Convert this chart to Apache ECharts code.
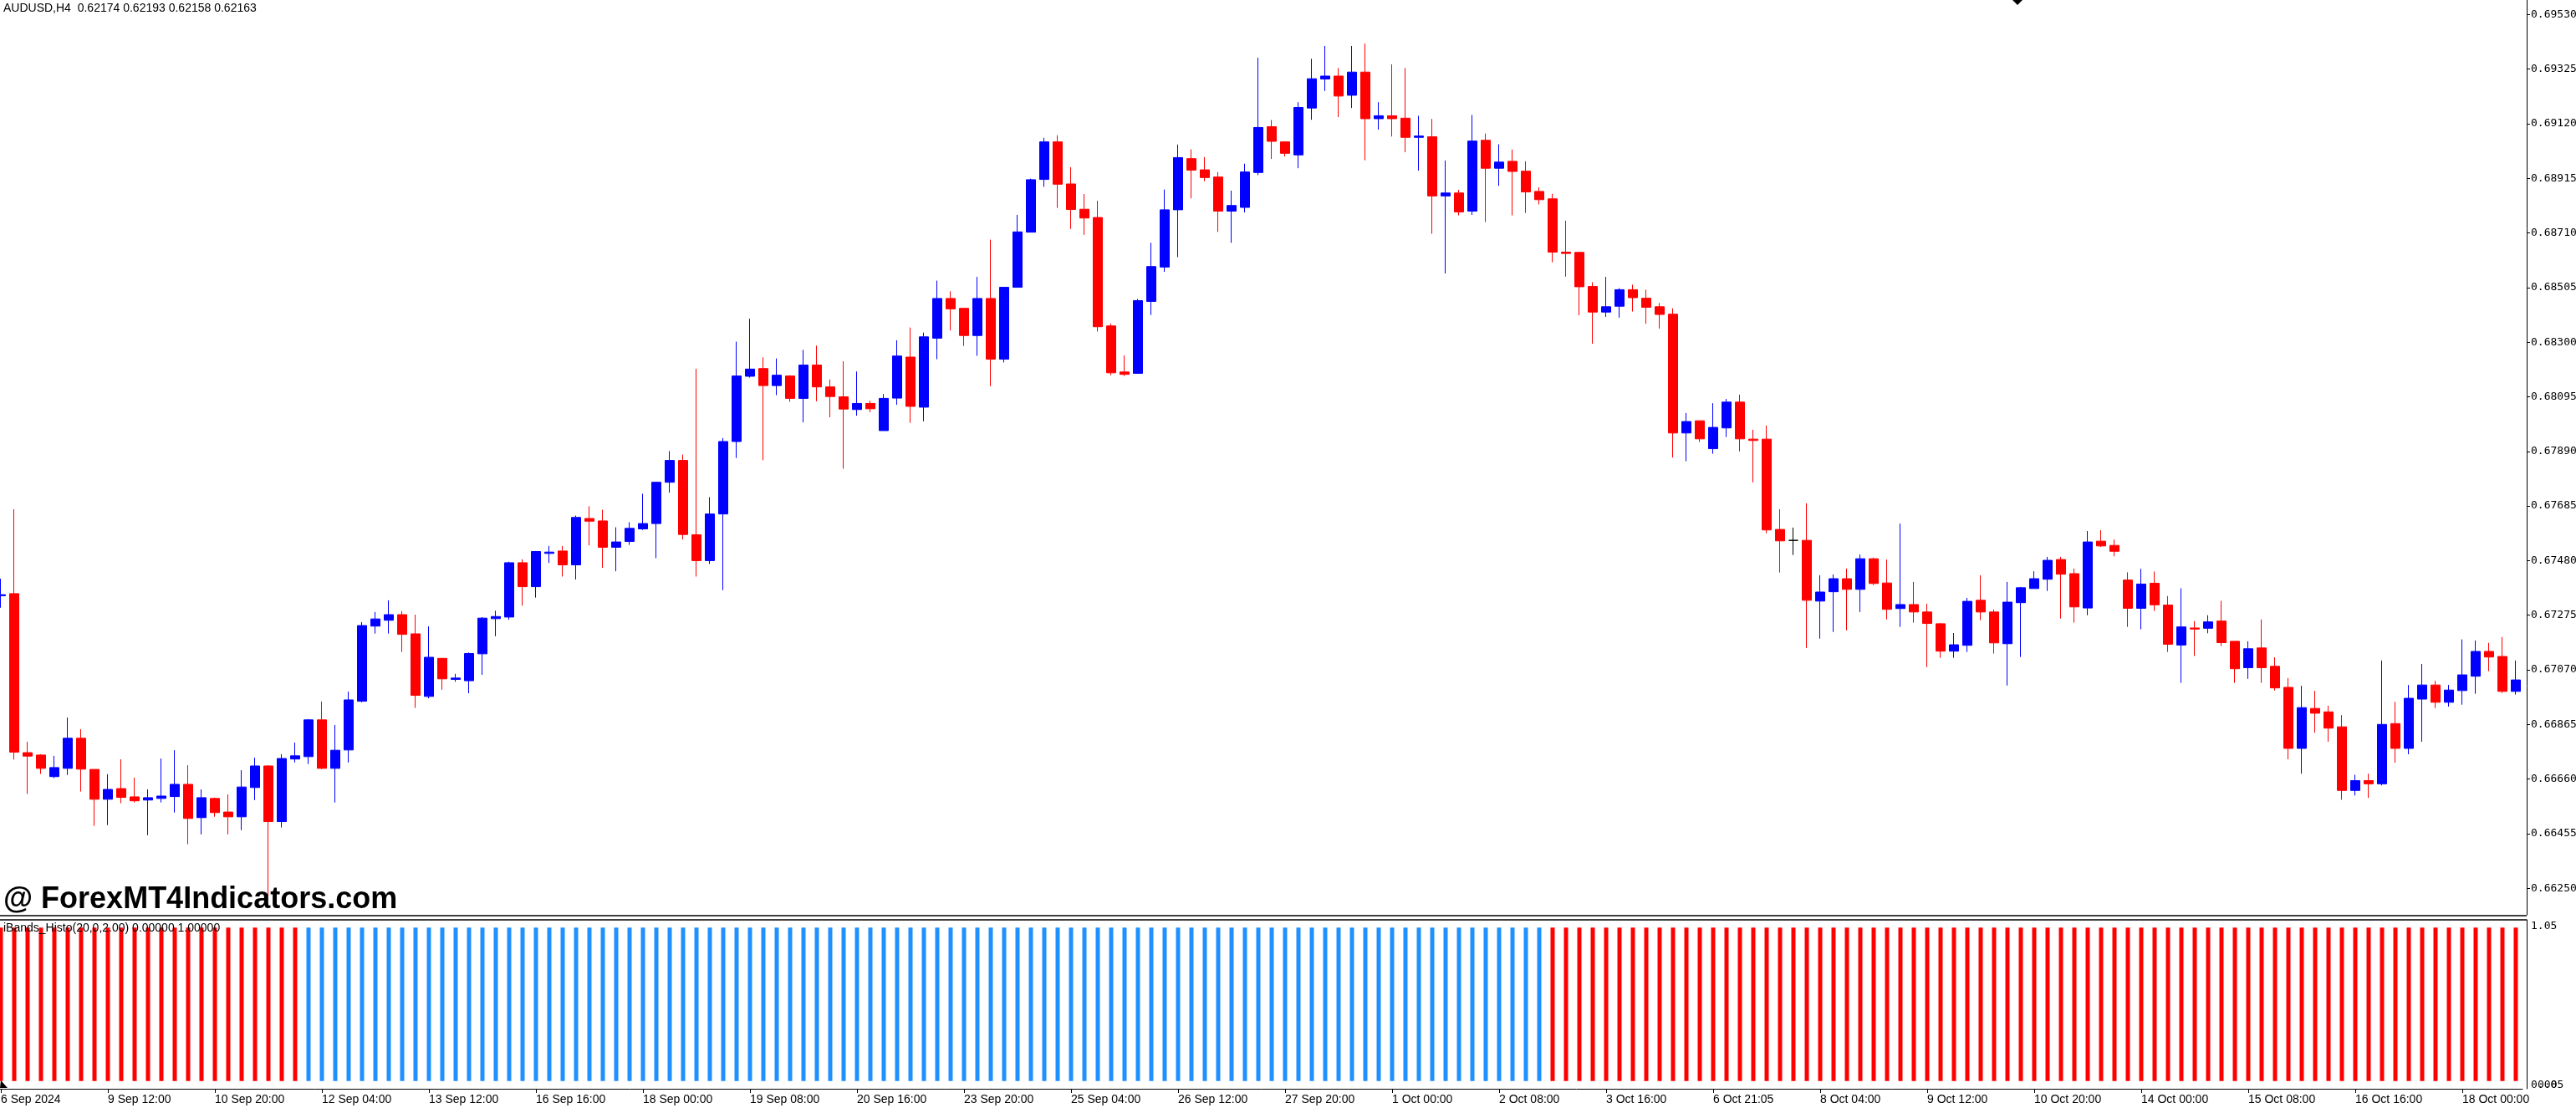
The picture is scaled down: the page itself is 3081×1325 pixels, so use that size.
<!DOCTYPE html>
<html><head><meta charset="utf-8">
<script src="https://cdn.jsdelivr.net/npm/echarts@6/dist/echarts.min.js"></script>
<style>html,body{margin:0;padding:0;background:#fff}#c{width:3081px;height:1325px}</style>
</head><body><div id="c"></div>
<script>
// AUDUSD H4 candles (open, close, low, high)
const opens = [
0.67348,0.67356,0.66759,0.66750,0.66669,0.66700,0.66813,0.66696,0.66584,0.66624,
0.66593,0.66581,0.66587,0.66594,0.66640,0.66515,0.66587,0.66536,0.66518,0.66628,
0.66709,0.66500,0.66735,0.66744,0.66882,0.66700,0.66769,0.66952,0.67234,0.67256,
0.67277,0.67205,0.66970,0.67113,0.67034,0.67029,0.67130,0.67262,0.67268,0.67472,
0.67382,0.67507,0.67516,0.67464,0.67638,0.67629,0.67530,0.67552,0.67599,0.67619,
0.67774,0.67856,0.67577,0.67480,0.67655,0.67927,0.68172,0.68201,0.68137,0.68173,
0.68089,0.68214,0.68132,0.68095,0.68047,0.68070,0.67968,0.68090,0.68244,0.68056,
0.68315,0.68464,0.68427,0.68325,0.68464,0.68236,0.68506,0.68713,0.68911,0.69052,
0.68894,0.68799,0.68768,0.68361,0.68188,0.68183,0.68453,0.68582,0.68797,0.68989,
0.68947,0.68920,0.68792,0.68806,0.68937,0.69109,0.69052,0.69003,0.69179,0.69288,
0.69299,0.69227,0.69314,0.69139,0.69150,0.69141,0.69069,0.69071,0.68849,0.68860,
0.68792,0.69058,0.68953,0.68979,0.68942,0.68866,0.68838,0.68638,0.68637,0.68509,
0.68413,0.68435,0.68497,0.68465,0.68433,0.68405,0.67959,0.68005,0.67900,0.67978,
0.68075,0.67936,0.67936,0.67597,0.67556,0.67556,0.67328,0.67363,0.67412,0.67372,
0.67487,0.67396,0.67300,0.67315,0.67287,0.67243,0.67140,0.67162,0.67331,0.67287,
0.67168,0.67322,0.67375,0.67410,0.67484,0.67431,0.67302,0.67553,0.67537,0.67407,
0.67301,0.67395,0.67313,0.67163,0.67227,0.67226,0.67253,0.67177,0.67078,0.67152,
0.67083,0.67004,0.66775,0.66925,0.66912,0.66856,0.66617,0.66654,0.66642,0.66868,
0.66775,0.66960,0.67013,0.66948,0.66992,0.67046,0.67139,0.67120,0.66989];
const closes = [
0.67352,0.66761,0.66746,0.66700,0.66703,0.66813,0.66697,0.66584,0.66621,0.66591,
0.66578,0.66590,0.66596,0.66640,0.66512,0.66590,0.66534,0.66518,0.66630,0.66709,
0.66500,0.66737,0.66747,0.66882,0.66700,0.66768,0.66957,0.67236,0.67261,0.67277,
0.67203,0.66974,0.67117,0.67036,0.67039,0.67131,0.67264,0.67270,0.67472,0.67382,
0.67514,0.67512,0.67464,0.67642,0.67628,0.67530,0.67550,0.67601,0.67619,0.67774,
0.67856,0.67578,0.67480,0.67655,0.67927,0.68173,0.68199,0.68137,0.68176,0.68089,
0.68214,0.68132,0.68096,0.68049,0.68070,0.68050,0.68089,0.68248,0.68059,0.68320,
0.68464,0.68425,0.68325,0.68464,0.68236,0.68506,0.68714,0.68910,0.69052,0.68893,
0.68798,0.68766,0.68358,0.68185,0.68179,0.68456,0.68584,0.68797,0.68993,0.68946,
0.68918,0.68792,0.68813,0.68939,0.69106,0.69054,0.69009,0.69181,0.69289,0.69299,
0.69224,0.69314,0.69139,0.69150,0.69139,0.69069,0.69074,0.68849,0.68860,0.68789,
0.69055,0.68953,0.68976,0.68941,0.68864,0.68835,0.68638,0.68633,0.68508,0.68413,
0.68433,0.68497,0.68467,0.68431,0.68404,0.67959,0.68002,0.67937,0.67980,0.68075,
0.67937,0.67931,0.67595,0.67554,0.67556,0.67331,0.67362,0.67412,0.67372,0.67487,
0.67394,0.67297,0.67315,0.67287,0.67244,0.67140,0.67164,0.67327,0.67287,0.67171,
0.67324,0.67378,0.67412,0.67481,0.67429,0.67306,0.67550,0.67535,0.67515,0.67301,
0.67392,0.67314,0.67166,0.67231,0.67223,0.67250,0.67172,0.67074,0.67149,0.67078,
0.67002,0.66775,0.66928,0.66907,0.66851,0.66617,0.66654,0.66642,0.66865,0.66775,
0.66963,0.67013,0.66948,0.66994,0.67051,0.67139,0.67118,0.66989,0.67032];
const lows = [
0.67303,0.66733,0.66604,0.66679,0.66663,0.66675,0.66613,0.66484,0.66487,0.66569,
0.66572,0.66449,0.66572,0.66534,0.66415,0.66452,0.66518,0.66452,0.66468,0.66581,
0.66219,0.66478,0.66722,0.66716,0.66697,0.66572,0.66722,0.66948,0.67206,0.67206,
0.67137,0.66927,0.66963,0.66995,0.67025,0.66982,0.67051,0.67196,0.67258,0.67311,
0.67341,0.67471,0.67420,0.67409,0.67537,0.67453,0.67440,0.67539,0.67595,0.67489,
0.67735,0.67559,0.67420,0.67467,0.67369,0.67865,0.68167,0.67857,0.68101,0.68076,
0.67999,0.68078,0.68018,0.67825,0.68024,0.68037,0.67968,0.68065,0.67997,0.68003,
0.68236,0.68344,0.68286,0.68249,0.68135,0.68224,0.68506,0.68713,0.68883,0.68804,
0.68725,0.68703,0.68340,0.68176,0.68173,0.68183,0.68402,0.68564,0.68619,0.68840,
0.68904,0.68714,0.68673,0.68787,0.68927,0.68988,0.68997,0.68953,0.69135,0.69243,
0.69145,0.69179,0.68983,0.69098,0.69072,0.69013,0.68944,0.68707,0.68558,0.68776,
0.68778,0.68751,0.68887,0.68776,0.68785,0.68817,0.68600,0.68546,0.68401,0.68294,
0.68395,0.68392,0.68415,0.68369,0.68351,0.67867,0.67853,0.67925,0.67881,0.67944,
0.67890,0.67774,0.67583,0.67435,0.67501,0.67152,0.67187,0.67212,0.67218,0.67287,
0.67388,0.67259,0.67231,0.67247,0.67080,0.67115,0.67115,0.67137,0.67256,0.67131,
0.67011,0.67118,0.67375,0.67366,0.67262,0.67247,0.67275,0.67531,0.67496,0.67231,
0.67222,0.67291,0.67137,0.67021,0.67122,0.67207,0.67159,0.67021,0.67036,0.67021,
0.66992,0.66734,0.66680,0.66834,0.66800,0.66582,0.66598,0.66589,0.66636,0.66721,
0.66753,0.66800,0.66926,0.66932,0.66939,0.66980,0.67065,0.66983,0.66977];
const highs = [
0.67412,0.67673,0.66800,0.66753,0.66747,0.66891,0.66847,0.66696,0.66678,0.66734,
0.66665,0.66621,0.66737,0.66768,0.66712,0.66621,0.66590,0.66602,0.66693,0.66740,
0.66712,0.66753,0.66797,0.66885,0.66951,0.66863,0.66988,0.67249,0.67287,0.67331,
0.67290,0.67277,0.67233,0.67114,0.67055,0.67135,0.67268,0.67292,0.67476,0.67485,
0.67516,0.67535,0.67535,0.67649,0.67684,0.67671,0.67605,0.67624,0.67731,0.67774,
0.67891,0.67878,0.68200,0.67718,0.67940,0.68302,0.68388,0.68243,0.68239,0.68176,
0.68271,0.68287,0.68160,0.68228,0.68190,0.68080,0.68105,0.68307,0.68355,0.68336,
0.68531,0.68491,0.68427,0.68545,0.68685,0.68506,0.68778,0.68914,0.69067,0.69077,
0.68957,0.68856,0.68831,0.68370,0.68250,0.68462,0.68673,0.68873,0.69042,0.69024,
0.68995,0.68939,0.68869,0.68970,0.69368,0.69134,0.69052,0.69201,0.69364,0.69412,
0.69329,0.69412,0.69421,0.69201,0.69343,0.69329,0.69150,0.69138,0.68982,0.68872,
0.69153,0.69083,0.69043,0.69023,0.68979,0.68881,0.68857,0.68756,0.68639,0.68525,
0.68545,0.68503,0.68516,0.68497,0.68447,0.68427,0.68034,0.68005,0.68071,0.68087,
0.68103,0.67971,0.67987,0.67673,0.67604,0.67695,0.67425,0.67428,0.67450,0.67503,
0.67491,0.67484,0.67619,0.67400,0.67318,0.67246,0.67208,0.67340,0.67425,0.67296,
0.67400,0.67381,0.67440,0.67494,0.67494,0.67450,0.67591,0.67594,0.67559,0.67436,
0.67449,0.67439,0.67347,0.67376,0.67253,0.67275,0.67329,0.67177,0.67177,0.67259,
0.67117,0.67039,0.67010,0.66991,0.66935,0.66900,0.66676,0.66680,0.67105,0.66950,
0.67013,0.67092,0.67029,0.67013,0.67184,0.67180,0.67171,0.67193,0.67105];

// iBands_Histo buffers (1 = bar drawn in that buffer)
const histoUp = [
0,0,0,0,0,0,0,0,0,0, 0,0,0,0,0,0,0,0,0,0, 0,0,0,1,1,1,1,1,1,1,
1,1,1,1,1,1,1,1,1,1, 1,1,1,1,1,1,1,1,1,1, 1,1,1,1,1,1,1,1,1,1,
1,1,1,1,1,1,1,1,1,1, 1,1,1,1,1,1,1,1,1,1, 1,1,1,1,1,1,1,1,1,1,
1,1,1,1,1,1,1,1,1,1, 1,1,1,1,1,1,1,1,1,1, 1,1,1,1,1,1,0,0,0,0,
0,0,0,0,0,0,0,0,0,0, 0,0,0,0,0,0,0,0,0,0, 0,0,0,0,0,0,0,0,0,0,
0,0,0,0,0,0,0,0,0,0, 0,0,0,0,0,0,0,0,0,0, 0,0,0,0,0,0,0,0,0,0,
0,0,0,0,0,0,0,0,0];
const histoDown = [
1,1,1,1,1,1,1,1,1,1, 1,1,1,1,1,1,1,1,1,1, 1,1,1,0,0,0,0,0,0,0,
0,0,0,0,0,0,0,0,0,0, 0,0,0,0,0,0,0,0,0,0, 0,0,0,0,0,0,0,0,0,0,
0,0,0,0,0,0,0,0,0,0, 0,0,0,0,0,0,0,0,0,0, 0,0,0,0,0,0,0,0,0,0,
0,0,0,0,0,0,0,0,0,0, 0,0,0,0,0,0,0,0,0,0, 0,0,0,0,0,0,1,1,1,1,
1,1,1,1,1,1,1,1,1,1, 1,1,1,1,1,1,1,1,1,1, 1,1,1,1,1,1,1,1,1,1,
1,1,1,1,1,1,1,1,1,1, 1,1,1,1,1,1,1,1,1,1, 1,1,1,1,1,1,1,1,1,1,
1,1,1,1,1,1,1,1,1];

// time axis labels (one every 8 bars)
const timeLabels = ['6 Sep 2024','9 Sep 12:00','10 Sep 20:00','12 Sep 04:00','13 Sep 12:00','16 Sep 16:00',
'18 Sep 00:00','19 Sep 08:00','20 Sep 16:00','23 Sep 20:00','25 Sep 04:00','26 Sep 12:00','27 Sep 20:00',
'1 Oct 00:00','2 Oct 08:00','3 Oct 16:00','6 Oct 21:05','8 Oct 04:00','9 Oct 12:00','10 Oct 20:00',
'14 Oct 00:00','15 Oct 08:00','16 Oct 16:00','18 Oct 00:00'];
const labelStep = 8;
// price axis tick labels
const priceTicks = [0.69530,0.69325,0.69120,0.68915,0.68710,0.68505,0.68300,0.68095,0.67890,
0.67685,0.67480,0.67275,0.67070,0.66865,0.66660,0.66455,0.66250];

const titleText = 'AUDUSD,H4  0.62174 0.62193 0.62158 0.62163';
const indiText = 'iBands_Histo(20,0,2.00) 0.00000 1.00000';
const watermark = '@ ForexMT4Indicators.com';

const cats = opens.map((_, i) => String(i));
const candleData = opens.map((o, i) => {
  const item = { value: [o, closes[i], lows[i], highs[i]] };
  if (o === closes[i]) item.itemStyle = { color: '#000', color0: '#000', borderColor: '#000', borderColor0: '#000' };
  return item;
});

const chart = echarts.init(document.getElementById('c'), null, { renderer: 'canvas' });
const AX = '#000';
chart.setOption({
  animation: false,
  backgroundColor: '#ffffff',
  grid: [
    { left: -7, top: 0, width: 3024, height: 1094, containLabel: false, outerBoundsMode: 'none' },
    { left: -7, top: 1100, width: 3024, height: 202, containLabel: false, outerBoundsMode: 'none' }
  ],
  xAxis: [
    { type: 'category', gridIndex: 0, data: cats, boundaryGap: true, show: false },
    { type: 'category', gridIndex: 1, data: cats, boundaryGap: true,
      axisLine: { show: true, onZero: false, lineStyle: { color: AX, width: 1 } },
      axisTick: { show: true, interval: labelStep - 1, alignWithLabel: true, length: 5, lineStyle: { color: AX } },
      axisLabel: { interval: labelStep - 1, align: 'left', color: '#000', fontFamily: 'Liberation Sans', fontSize: 14,
        margin: 6,
        formatter: (v, i) => (i % labelStep === 0 ? (timeLabels[i / labelStep] || '') : '') } }
  ],
  yAxis: [
    { type: 'value', gridIndex: 0, position: 'right', offset: 5, min: 0.661501, max: 0.695846, scale: true,
      splitLine: { show: false },
      axisLine: { show: true, lineStyle: { color: AX, width: 1 } },
      axisTick: { show: true, customValues: priceTicks, length: 4, lineStyle: { color: AX } },
      axisLabel: { customValues: priceTicks, formatter: v => v.toFixed(5), color: '#000',
        fontFamily: 'DejaVu Sans Mono', fontSize: 13, margin: 5 } },
    { type: 'value', gridIndex: 1, position: 'right', offset: 5, min: -0.05, max: 1.05,
      splitLine: { show: false },
      axisLine: { show: true, lineStyle: { color: AX, width: 1 } },
      axisTick: { show: false }, axisLabel: { show: false } }
  ],
  series: [
    { type: 'candlestick', xAxisIndex: 0, yAxisIndex: 0, data: candleData, barWidth: 11,
      itemStyle: { color: '#0000FF', color0: '#FF0000', borderColor: '#0000FF', borderColor0: '#FF0000', borderWidth: 1 } },
    { type: 'bar', xAxisIndex: 1, yAxisIndex: 1, data: histoUp, barWidth: 5, barGap: '-100%',
      itemStyle: { color: '#1E90FF' } },
    { type: 'bar', xAxisIndex: 1, yAxisIndex: 1, data: histoDown, barWidth: 5, barGap: '-100%',
      itemStyle: { color: '#FF0000' } }
  ],
  graphic: [
    { type: 'text', x: 4, y: 3, z: 100, style: { text: titleText, fill: '#000', fontFamily: 'Liberation Sans', fontSize: 14, verticalAlign: 'top' } },
    { type: 'text', x: 4, y: 1103, z: 100, style: { text: indiText, fill: '#000', fontFamily: 'Liberation Sans', fontSize: 14, verticalAlign: 'top' } },
    { type: 'text', x: 4, y: 1058, z: 100, style: { text: watermark, fill: '#000', fontFamily: 'Liberation Sans', fontWeight: 'bold', fontSize: 36, verticalAlign: 'top' } },
    { type: 'line', z: 100, shape: { x1: 0, y1: 1095, x2: 3022, y2: 1095 }, style: { stroke: '#000', lineWidth: 1.5 } },
    { type: 'line', z: 100, shape: { x1: 0, y1: 1100, x2: 3022, y2: 1100 }, style: { stroke: '#000', lineWidth: 1.5 } },
    { type: 'text', x: 3027, y: 1108, z: 100, style: { text: '1.05', fill: '#000', fontFamily: 'DejaVu Sans Mono', fontSize: 13, verticalAlign: 'middle' } },
    { type: 'text', x: 3027, y: 1298, z: 100, style: { text: '0.00', fill: '#000', fontFamily: 'DejaVu Sans Mono', fontSize: 13, verticalAlign: 'middle' } },
    { type: 'text', x: 3035, y: 1298, z: 100, style: { text: '0.05', fill: '#000', fontFamily: 'DejaVu Sans Mono', fontSize: 13, verticalAlign: 'middle' } },
    { type: 'polygon', z: 100, shape: { points: [[2407, 0], [2419, 0], [2413, 6]] }, style: { fill: '#000' } },
    { type: 'polygon', z: 100, shape: { points: [[0, 1301], [9, 1301], [1, 1292]] }, style: { fill: '#000' } }
  ]
});
</script>
</body></html>
